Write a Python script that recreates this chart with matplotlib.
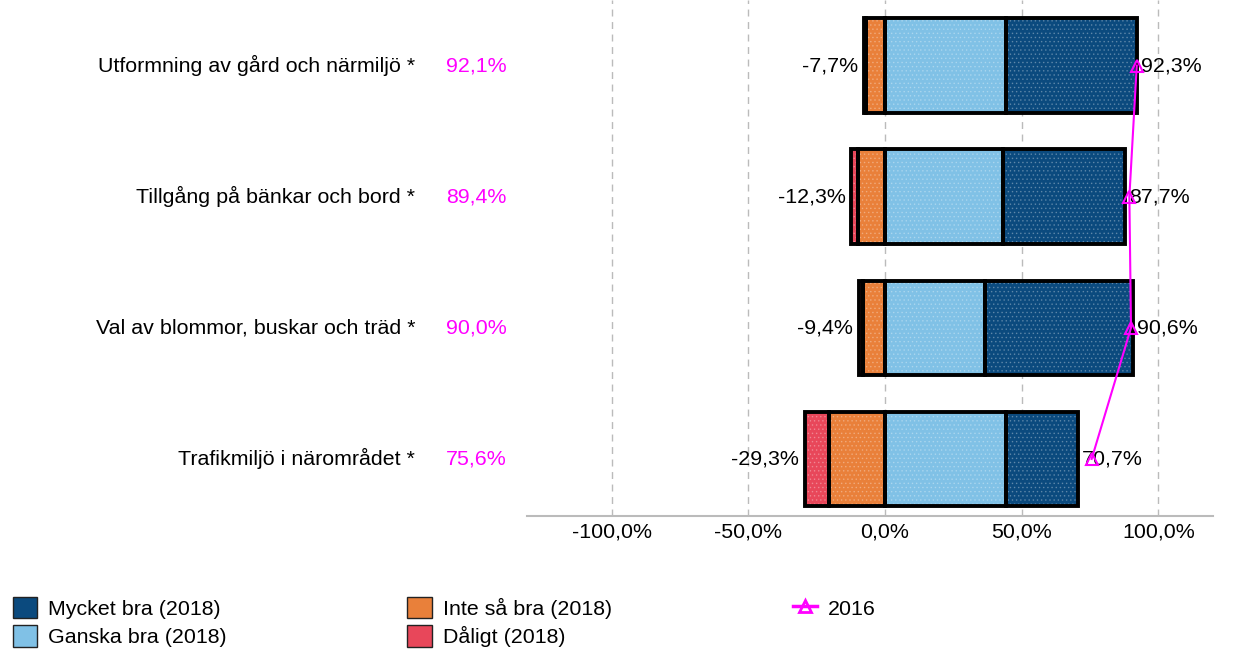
import matplotlib
matplotlib.use("Agg")
import matplotlib.pyplot as plt
from matplotlib.patches import Patch
from matplotlib.lines import Line2D
from matplotlib.transforms import blended_transform_factory
import numpy as np

plt.rcParams['font.family'] = ['Liberation Sans', 'DejaVu Sans']

categories = ["Utformning av gård och närmiljö *",
              "Tillgång på bänkar och bord *",
              "Val av blommor, buskar och träd *",
              "Trafikmiljö i närområdet *"]
daligt = [0.6, 2.5, 1.5, 8.8]
inte_sa_bra = [7.1, 9.8, 7.9, 20.5]
ganska_bra = [44.3, 43.2, 36.6, 44.3]
mycket_bra = [48.0, 44.5, 54.0, 26.4]
y2016 = [92.1, 89.4, 90.0, 75.6]
xticks = [-100, -50, 0, 50, 100]

C_MB = "#0B4A7E"
C_GB = "#80C1E6"
C_IB = "#E9803A"
C_DA = "#E8475A"
MAG = "#FF00FF"
FS = 15.4

def fmt(v):
    return f"{v:.1f}".replace(".", ",") + "%"

fig = plt.figure(figsize=(12.42, 6.51), dpi=100)
ax = fig.add_axes([527/1242, (651-516)/651, (1213-527)/1242, 516/651])

y = np.arange(len(categories))
h = 0.72
neg_ib = -np.array(inte_sa_bra)
neg_da = neg_ib - np.array(daligt)
segs = [
    (neg_da, np.array(daligt), C_DA),
    (neg_ib, np.array(inte_sa_bra), C_IB),
    (np.zeros(4), np.array(ganska_bra), C_GB),
    (np.array(ganska_bra), np.array(mycket_bra), C_MB),
]
plt.rcParams['hatch.linewidth'] = 0.6
for left, width, col in segs:
    ax.barh(y, width, left=left, height=h, color=col, edgecolor=(1, 1, 1, 0.25),
            hatch='....', linewidth=0, zorder=2)
    ax.barh(y, width, left=left, height=h, fill=False, edgecolor='black',
            linewidth=2.8, zorder=3)

neg_tot = np.array(daligt) + np.array(inte_sa_bra)
pos_tot = np.array(ganska_bra) + np.array(mycket_bra)
for i in range(4):
    ax.text(-neg_tot[i] - 2.2, y[i], fmt(-neg_tot[i]), ha='right', va='center', fontsize=FS, zorder=5)
    ax.text(pos_tot[i] + 1.5, y[i], fmt(pos_tot[i]), ha='left', va='center', fontsize=FS, zorder=5)

ax.plot(y2016, y, color=MAG, lw=1.5, marker='^', markersize=8, markerfacecolor='none',
        markeredgecolor=MAG, markeredgewidth=1.5, zorder=6)

ax.set_xlim(-131, 120)
ax.set_ylim(3.435, -0.5)
ax.set_xticks(xticks)
ax.set_xticklabels([fmt(v) for v in xticks], fontsize=FS)
ax.tick_params(axis='x', length=0, pad=5)
ax.set_yticks([])
ax.grid(axis='x', color='#BBBBBB', linestyle=(0, (5, 4)), linewidth=1, zorder=0)
for s in ['top', 'right', 'left']:
    ax.spines[s].set_visible(False)
ax.spines['bottom'].set_color('#BBBBBB')
ax.spines['bottom'].set_linewidth(1.5)

tr = blended_transform_factory(fig.transFigure, ax.transData)
for i, cat in enumerate(categories):
    fig.text(415/1242, y[i], cat, transform=tr, ha='right', va='center', fontsize=FS)
    fig.text(446/1242, y[i], fmt(y2016[i]), transform=tr, ha='left', va='center', fontsize=FS, color=MAG)

handles = [Patch(facecolor=C_MB, edgecolor='#222222', label='Mycket bra (2018)'),
           Patch(facecolor=C_GB, edgecolor='#222222', label='Ganska bra (2018)'),
           Patch(facecolor=C_IB, edgecolor='#222222', label='Inte så bra (2018)'),
           Patch(facecolor=C_DA, edgecolor='#222222', label='Dåligt (2018)'),
           Line2D([0], [0], color=MAG, lw=2.5, marker='^', markersize=8,
                  markerfacecolor='none', markeredgecolor=MAG, markeredgewidth=2, label='2016')]
leg = fig.legend(handles=handles, ncol=3, loc='lower left', bbox_to_anchor=(0.0, -0.014),
                 frameon=False, fontsize=FS, handlelength=1.15, handleheight=1.15,
                 handletextpad=0.5, columnspacing=8.45, labelspacing=0.3,
                 borderaxespad=0.2)

fig.savefig("out.png", dpi=100)
